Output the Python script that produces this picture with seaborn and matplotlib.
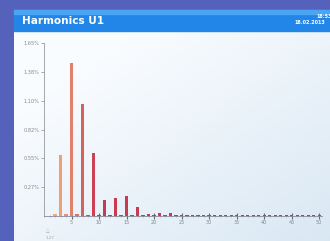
import numpy as np
import seaborn as sns
import matplotlib.pyplot as plt
from matplotlib.patches import Rectangle
from matplotlib.ticker import MultipleLocator, FixedLocator

# harmonic order and amplitude in % of fundamental
harmonics = list(range(2, 51))
values = [0.02, 0.58, 0.02, 1.46, 0.02, 1.07, 0.01, 0.60, 0.01, 0.15,
          0.01, 0.17, 0.01, 0.19, 0.01, 0.086, 0.01, 0.015, 0.006, 0.032,
          0.006, 0.032, 0.006, 0.012, 0.006, 0.01, 0.006, 0.01, 0.005, 0.008,
          0.005, 0.008, 0.005, 0.006, 0.005, 0.006, 0.005, 0.006, 0.005, 0.006,
          0.005, 0.006, 0.005, 0.006, 0.005, 0.006, 0.005, 0.006, 0.005]
ytick_vals = [0.275, 0.55, 0.825, 1.10, 1.375, 1.65]
ytick_labels = ["0.27%", "0.55%", "0.82%", "1.10%", "1.38%", "1.65%"]
xtick_vals = [5, 10, 15, 20, 25, 30, 35, 40, 45, 50]
title = "Harmonics U1"

sns.set_style("white")
plt.rcParams['font.family'] = ['DejaVu Sans']

fig = plt.figure(figsize=(3.3, 2.41), dpi=100)
fig.patch.set_facecolor("#5462bc")

# screen background, in pixel coordinates
bg = fig.add_axes([0, 0, 1, 1])
bg.set_xlim(0, 330)
bg.set_ylim(241, 0)
bg.axis("off")
gx, gy = np.meshgrid(np.linspace(0, 1, 60), np.linspace(0, 1, 60))
t = np.clip(0.55 * gx + 0.6 * gy - 0.25, 0, 1)[..., None]
top = np.array([0.98, 0.99, 1.0])
bot = np.array([0.84, 0.90, 0.95])
bg.imshow(top * (1 - t) + bot * t, extent=(14, 330, 241, 10), aspect="auto", zorder=1)
bg.add_patch(Rectangle((14, 10), 316, 21, color="#2286e8", zorder=2))
bg.add_patch(Rectangle((14, 10), 316, 4, color="#4aa6f4", zorder=2))
bg.text(22, 21.5, title, color="white", fontsize=7.6, fontweight="bold", va="center", zorder=3)
bg.text(316, 16, "18:53", color="white", fontsize=3.5, fontweight="bold", va="center", zorder=3)
bg.text(294, 22, "18.02.2013", color="white", fontsize=3.5, fontweight="bold", va="center", zorder=3)
bg.text(48, 231, "\u25b3", color="#9aa", fontsize=3.5, ha="center", va="center", zorder=3)
bg.text(50, 238, "1.27", color="#9aa", fontsize=3, ha="center", va="center", zorder=3)

# bar chart
ax = fig.add_axes([44 / 330, 25 / 241, 278 / 330, 173 / 241])
ax.set_facecolor("none")

sns.barplot(x=harmonics, y=values, native_scale=True, width=0.6,
            color="#c84050", ax=ax)

# colour ramp from orange (low orders) to crimson
c_lo = np.array([0.94, 0.66, 0.46])
c_hi = np.array([0.78, 0.23, 0.32])
for bar in ax.patches:
    h = bar.get_x() + bar.get_width() / 2
    f = np.clip((h - 2.5) / 7, 0, 1)
    bar.set_facecolor(tuple(c_lo * (1 - f) + c_hi * f))
    bar.set_edgecolor("none")

ax.set_xlim(0, 50.5)
ax.set_ylim(0, 1.65)
ax.set_yticks(ytick_vals)
ax.set_yticklabels(ytick_labels)
ax.xaxis.set_major_locator(FixedLocator(xtick_vals))
ax.set_xticklabels([str(v) for v in xtick_vals])
ax.xaxis.set_minor_locator(MultipleLocator(1))
ax.tick_params(axis="y", direction="out", length=2, width=0.5, color="#888",
               labelsize=3.6, labelcolor="#888", pad=1.5, left=True)
ax.tick_params(axis="x", which="major", direction="inout", length=4, width=0.8,
               color="#667", labelsize=3.6, labelcolor="#888", pad=1, bottom=True)
ax.tick_params(axis="x", which="minor", direction="inout", length=1.5, width=0.4,
               color="#889", bottom=True)
for s in ["top", "right"]:
    ax.spines[s].set_visible(False)
ax.spines["left"].set_color("#999")
ax.spines["left"].set_linewidth(0.6)
ax.spines["bottom"].set_color("#889")
ax.spines["bottom"].set_linewidth(0.6)
ax.set_xlabel("")
ax.set_ylabel("")

fig.savefig("out.png", dpi=100, facecolor=fig.get_facecolor())
